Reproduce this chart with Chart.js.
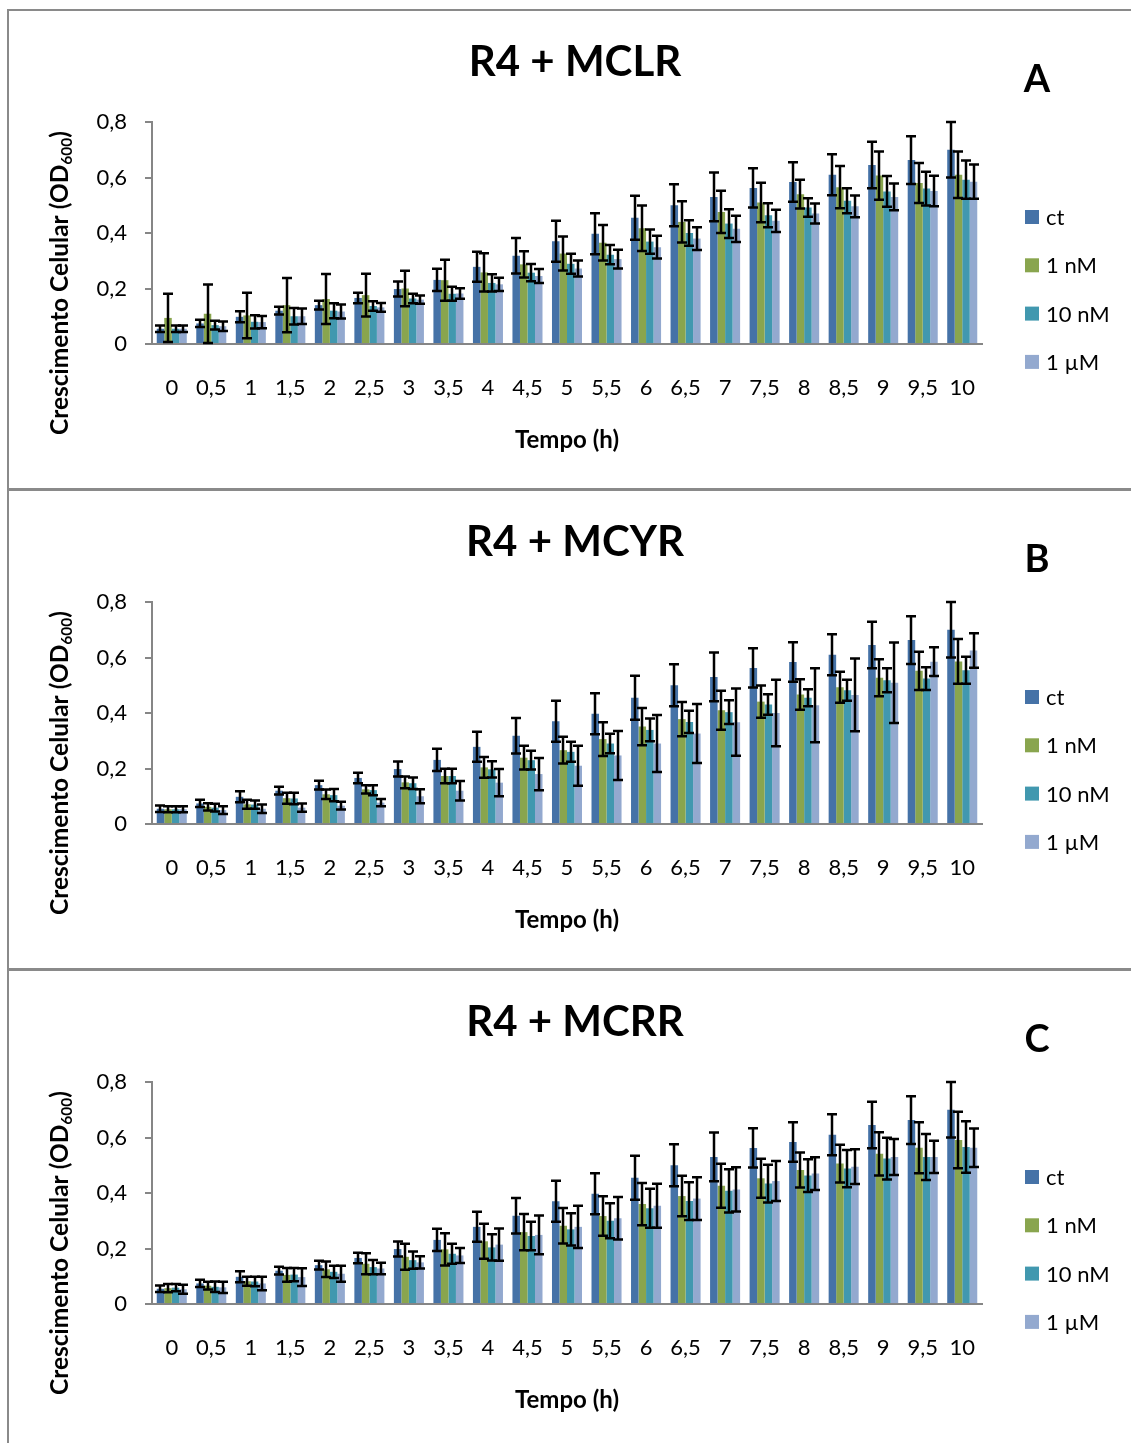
<!DOCTYPE html>
<html>
<head>
<meta charset="utf-8">
<script src="https://cdn.jsdelivr.net/npm/chart.js@4.4.0/dist/chart.umd.min.js"></script>
<style>
body { margin: 0; background: #fff; width: 1131px; height: 1443px; position: relative; overflow: hidden; }
.panel { position: absolute; left: 0; width: 1131px; height: 477px; }
.line { position: absolute; background: #8a8a8a; }
</style>
</head>
<body>
<div class="panel" style="top:11px"><canvas id="chartA"></canvas></div>
<div class="panel" style="top:491px"><canvas id="chartB"></canvas></div>
<div class="panel" style="top:971px"><canvas id="chartC"></canvas></div>

<div class="line" style="left:7px;top:9px;width:2px;height:1434px"></div>
<div class="line" style="left:7px;top:9px;width:1124px;height:2px"></div>
<div class="line" style="left:7px;top:488px;width:1124px;height:3px"></div>
<div class="line" style="left:7px;top:968px;width:1124px;height:3px"></div>

<script>
const categories = ['0', '0,5', '1', '1,5', '2', '2,5', '3', '3,5', '4', '4,5', '5', '5,5', '6', '6,5', '7', '7,5', '8', '8,5', '9', '9,5', '10'];
const yTicks = [0, 0.2, 0.4, 0.6, 0.8];
const seriesNames = ['ct', '1 nM', '10 nM', '1 µM'];
const colors = ['#4572A7', '#89A54E', '#4198AF', '#93A9CF'];

// controle (igual nos tres graficos)
const ct = [0.055, 0.074, 0.098, 0.12, 0.14, 0.166, 0.198, 0.231, 0.278, 0.318, 0.37, 0.397, 0.455, 0.50, 0.53, 0.5625, 0.584, 0.61, 0.645, 0.663, 0.70];
const ctErr = [0.012, 0.013, 0.02, 0.014, 0.016, 0.019, 0.027, 0.04, 0.054, 0.064, 0.074, 0.074, 0.079, 0.076, 0.088, 0.071, 0.071, 0.074, 0.084, 0.086, 0.10];

// A - MCLR
const mclr1nM = [0.094, 0.109, 0.103, 0.14, 0.162, 0.176, 0.20, 0.23, 0.258, 0.287, 0.326, 0.365, 0.417, 0.44, 0.476, 0.51, 0.54, 0.565, 0.607, 0.58, 0.61];
const mclr1nMErr = [0.087, 0.105, 0.082, 0.098, 0.09, 0.077, 0.064, 0.074, 0.069, 0.047, 0.061, 0.064, 0.082, 0.074, 0.076, 0.071, 0.052, 0.076, 0.087, 0.072, 0.084];
const mclr10nM = [0.055, 0.068, 0.08, 0.10, 0.12, 0.137, 0.164, 0.181, 0.22, 0.257, 0.289, 0.322, 0.369, 0.40, 0.434, 0.464, 0.492, 0.516, 0.55, 0.56, 0.592];
const mclr10nMErr = [0.012, 0.016, 0.024, 0.03, 0.027, 0.017, 0.017, 0.025, 0.031, 0.031, 0.036, 0.035, 0.044, 0.046, 0.052, 0.043, 0.033, 0.045, 0.055, 0.061, 0.069];
const mclr1uM = [0.055, 0.064, 0.079, 0.10, 0.117, 0.132, 0.16, 0.182, 0.215, 0.245, 0.272, 0.306, 0.349, 0.38, 0.415, 0.444, 0.47, 0.496, 0.53, 0.551, 0.585];
const mclr1uMErr = [0.012, 0.017, 0.022, 0.028, 0.025, 0.016, 0.015, 0.019, 0.024, 0.025, 0.029, 0.034, 0.041, 0.041, 0.047, 0.04, 0.036, 0.039, 0.048, 0.055, 0.062];

// B - MCYR
const mcyr1nM = [0.053, 0.062, 0.071, 0.093, 0.107, 0.125, 0.15, 0.173, 0.204, 0.239, 0.266, 0.306, 0.351, 0.378, 0.41, 0.441, 0.467, 0.493, 0.527, 0.552, 0.586];
const mcyr1nMErr = [0.011, 0.013, 0.016, 0.02, 0.017, 0.015, 0.021, 0.026, 0.037, 0.043, 0.048, 0.061, 0.067, 0.062, 0.07, 0.058, 0.055, 0.056, 0.067, 0.069, 0.081];
const mcyr10nM = [0.053, 0.059, 0.07, 0.092, 0.104, 0.122, 0.147, 0.173, 0.197, 0.23, 0.26, 0.29, 0.339, 0.368, 0.403, 0.431, 0.455, 0.482, 0.518, 0.524, 0.554];
const mcyr10nMErr = [0.011, 0.014, 0.015, 0.021, 0.022, 0.018, 0.021, 0.026, 0.029, 0.034, 0.036, 0.035, 0.041, 0.04, 0.043, 0.037, 0.031, 0.038, 0.043, 0.041, 0.049];
const mcyr1uM = [0.053, 0.05, 0.055, 0.059, 0.066, 0.077, 0.10, 0.12, 0.149, 0.18, 0.21, 0.247, 0.29, 0.326, 0.367, 0.40, 0.428, 0.465, 0.509, 0.585, 0.625];
const mcyr1uMErr = [0.011, 0.014, 0.015, 0.015, 0.014, 0.013, 0.025, 0.035, 0.049, 0.058, 0.072, 0.088, 0.103, 0.106, 0.121, 0.12, 0.133, 0.131, 0.145, 0.052, 0.062];

// C - MCRR
const mcrr1nM = [0.057, 0.066, 0.082, 0.105, 0.125, 0.145, 0.17, 0.197, 0.226, 0.259, 0.282, 0.317, 0.36, 0.389, 0.426, 0.453, 0.483, 0.506, 0.541, 0.563, 0.591];
const mcrr1nMErr = [0.015, 0.014, 0.016, 0.025, 0.028, 0.038, 0.047, 0.058, 0.063, 0.065, 0.064, 0.071, 0.076, 0.073, 0.079, 0.07, 0.063, 0.068, 0.078, 0.092, 0.102];
const mcrr10nM = [0.059, 0.062, 0.081, 0.106, 0.116, 0.133, 0.158, 0.181, 0.204, 0.245, 0.269, 0.30, 0.345, 0.371, 0.408, 0.434, 0.463, 0.488, 0.524, 0.53, 0.566];
const mcrr10nMErr = [0.013, 0.019, 0.017, 0.024, 0.022, 0.026, 0.031, 0.036, 0.047, 0.051, 0.058, 0.063, 0.07, 0.068, 0.078, 0.068, 0.059, 0.067, 0.075, 0.083, 0.093];
const mcrr1uM = [0.053, 0.06, 0.074, 0.097, 0.109, 0.128, 0.15, 0.175, 0.214, 0.249, 0.278, 0.309, 0.354, 0.38, 0.413, 0.443, 0.47, 0.495, 0.53, 0.53, 0.563];
const mcrr1uMErr = [0.016, 0.02, 0.024, 0.032, 0.029, 0.021, 0.022, 0.027, 0.058, 0.07, 0.076, 0.077, 0.079, 0.077, 0.08, 0.072, 0.059, 0.063, 0.065, 0.058, 0.069];

const FONT = 'Lato';

// barras de erro desenhadas pela escala y
const errorBars = {
    id: 'errorBars',
    afterDatasetsDraw(chart) {
        const ctx = chart.ctx;
        const ys = chart.scales.y;
        ctx.save();
        ctx.strokeStyle = '#000';
        ctx.lineWidth = 2.5;
        chart.data.datasets.forEach((ds, i) => {
            const meta = chart.getDatasetMeta(i);
            meta.data.forEach((bar, j) => {
                const v = ds.data[j];
                const e = ds.errors[j];
                const top = ys.getPixelForValue(v + e);
                const bot = ys.getPixelForValue(Math.max(v - e, 0));
                const x = Math.round(bar.x);
                ctx.beginPath();
                ctx.moveTo(x, top); ctx.lineTo(x, bot);
                ctx.moveTo(x - 5, top); ctx.lineTo(x + 5, top);
                ctx.moveTo(x - 5, bot); ctx.lineTo(x + 5, bot);
                ctx.stroke();
            });
        });
        ctx.restore();
    }
};

// titulo, letra, legenda e titulos dos eixos
const texts = {
    id: 'texts',
    afterDraw(chart, args, opts) {
        const ctx = chart.ctx;
        ctx.save();
        ctx.fillStyle = '#000';
        ctx.textBaseline = 'middle';
        ctx.textAlign = 'center';
        ctx.font = 'bold 42px ' + FONT;
        ctx.fillText(opts.title, 575, 51);
        ctx.font = 'bold 38px ' + FONT;
        ctx.fillText(opts.letter, 1037, 69);
        ctx.font = 'bold 24px ' + FONT;
        ctx.fillText('Tempo (h)', 567, 429);

        // eixo y com subscrito
        ctx.translate(60, 272);
        ctx.rotate(-Math.PI / 2);
        const main = 'Crescimento Celular (OD';
        const bigF = 'bold 24.5px ' + FONT, smallF = 'bold 15.5px ' + FONT;
        ctx.font = bigF;
        const w1 = ctx.measureText(main).width;
        const w3 = ctx.measureText(')').width;
        ctx.font = smallF;
        const w2 = ctx.measureText('600').width;
        let x0 = -(w1 + w2 + w3) / 2;
        ctx.textAlign = 'left';
        ctx.font = bigF;
        ctx.fillText(main, x0, 0);
        ctx.font = smallF;
        ctx.fillText('600', x0 + w1, 7);
        ctx.font = bigF;
        ctx.fillText(')', x0 + w1 + w2, 0);
        ctx.setTransform(1, 0, 0, 1, 0, 0);

        // legenda
        ctx.font = '22px ' + FONT;
        ctx.textAlign = 'left';
        chart.data.datasets.forEach((ds, i) => {
            const y = 206 + i * 48.3;
            ctx.fillStyle = ds.backgroundColor;
            ctx.fillRect(1025, y - 7, 14, 14);
            ctx.fillStyle = '#000';
            ctx.fillText(ds.label, 1046, y + 1);
        });
        ctx.restore();
    }
};

function makePanel(id, title, letter, values, errors) {
    const datasets = values.map((d, i) => ({
        label: seriesNames[i],
        data: d,
        errors: errors[i],
        backgroundColor: colors[i],
        borderWidth: 0,
        categoryPercentage: 0.76,
        barPercentage: 1.0
    }));
    return new Chart(document.getElementById(id), {
        type: 'bar',
        data: { labels: categories, datasets: datasets },
        plugins: [errorBars, texts],
        options: {
            responsive: true,
            maintainAspectRatio: false,
            devicePixelRatio: 1,
            animation: false,
            layout: { padding: { left: 0, top: 111, right: 149, bottom: 54 } },
            plugins: {
                legend: { display: false },
                tooltip: { enabled: false },
                texts: { title: title, letter: letter }
            },
            scales: {
                x: {
                    grid: { display: false, drawTicks: false },
                    border: { display: true, color: '#868686', width: 2 },
                    ticks: { color: '#000', font: { family: FONT, size: 22 }, padding: 31, maxRotation: 0, autoSkip: false },
                    afterFit: (s) => { s.height = 90; }
                },
                y: {
                    min: 0,
                    max: 0.8,
                    afterBuildTicks: (s) => { s.ticks = yTicks.map(v => ({ value: v })); },
                    grid: { drawOnChartArea: false, drawTicks: true, tickLength: 7, color: '#868686', lineWidth: 2 },
                    border: { display: true, color: '#868686', width: 2 },
                    ticks: {
                        color: '#000',
                        font: { family: FONT, size: 22 },
                        padding: 18,
                        callback: (v) => v === 0 ? '0' : v.toFixed(1).replace('.', ',')
                    },
                    afterFit: (s) => { s.width = 152; }
                }
            }
        }
    });
}

makePanel('chartA', 'R4 + MCLR', 'A',
    [ct, mclr1nM, mclr10nM, mclr1uM], [ctErr, mclr1nMErr, mclr10nMErr, mclr1uMErr]);
makePanel('chartB', 'R4 + MCYR', 'B',
    [ct, mcyr1nM, mcyr10nM, mcyr1uM], [ctErr, mcyr1nMErr, mcyr10nMErr, mcyr1uMErr]);
makePanel('chartC', 'R4 + MCRR', 'C',
    [ct, mcrr1nM, mcrr10nM, mcrr1uM], [ctErr, mcrr1nMErr, mcrr10nMErr, mcrr1uMErr]);
</script>
</body>
</html>
